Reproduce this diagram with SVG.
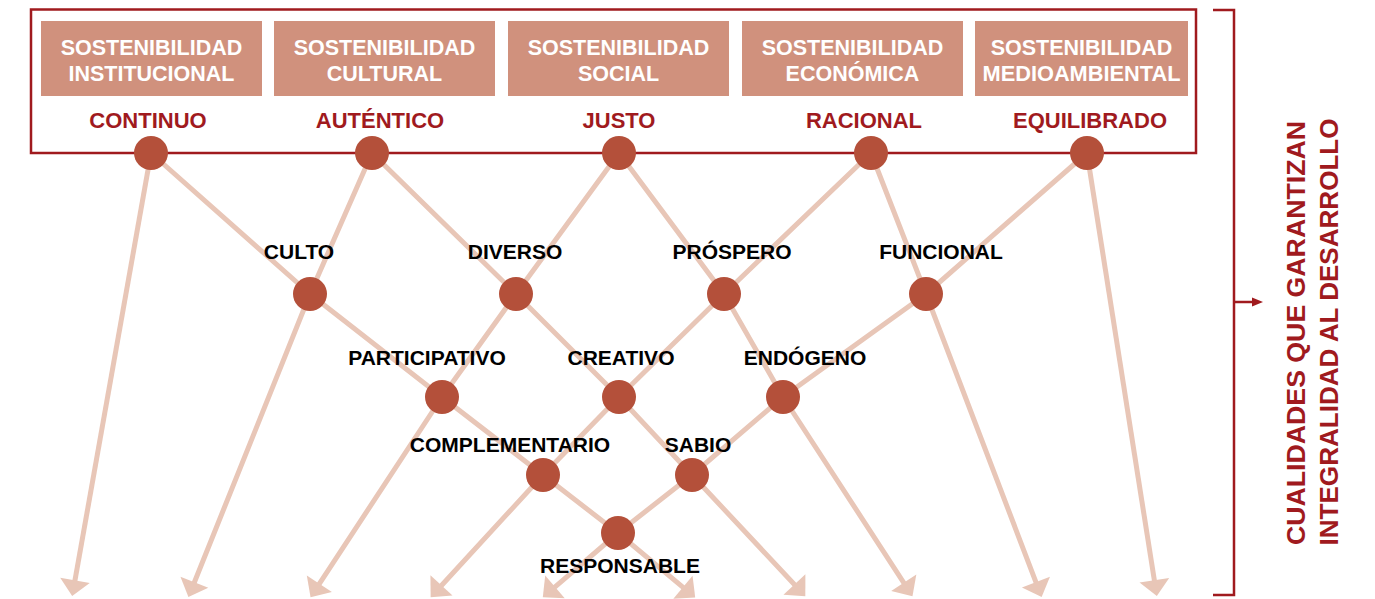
<svg xmlns="http://www.w3.org/2000/svg" width="1375" height="599" viewBox="0 0 1375 599">
<style>
.box{fill:#D0917D}
.bt{font-family:"Liberation Sans",Arial,sans-serif;font-weight:bold;font-size:21.5px;fill:#ffffff;text-anchor:middle}
.top{font-family:"Liberation Sans",Arial,sans-serif;font-weight:bold;font-size:22px;fill:#A01A1E;text-anchor:middle}
.lbl{font-family:"Liberation Sans",Arial,sans-serif;font-weight:bold;font-size:21px;fill:#000000;text-anchor:middle}
.dot{fill:#B4503A}
.ln{fill:none;stroke:#E8C6B7;stroke-width:5;stroke-linejoin:round;marker-end:url(#ah)}
.red{fill:none;stroke:#A01A1E;stroke-width:2.5}
.side{font-family:"Liberation Sans",Arial,sans-serif;font-weight:bold;font-size:26px;fill:#A01A1E;text-anchor:middle}
</style>
<defs>
<marker id="ah" markerUnits="userSpaceOnUse" markerWidth="20" markerHeight="32" viewBox="0 -16 18 32" refX="1" refY="0" orient="auto">
<path d="M0,-15 L16,0 L0,15 z" fill="#E8C6B7"/>
</marker>
</defs>
<rect width="1375" height="599" fill="#ffffff"/>

<g id="connectors">
<polyline class="ln" points="151,153 74.8,581.3"/>
<polyline class="ln" points="372,153 310,294 194,583.2"/>
<polyline class="ln" points="619,153 516,294 442,397 318.8,584.6"/>
<polyline class="ln" points="871,153 724,294 619,397 543,475 440.8,586.2"/>
<polyline class="ln" points="1087,153 926,294 783,397 692,475 618,533 554.2,587.6"/>
<polyline class="ln" points="151,153 310,294 442,397 543,475 618,533 683.7,587.8"/>
<polyline class="ln" points="372,153 516,294 619,397 692,475 795.1,585.3"/>
<polyline class="ln" points="619,153 724,294 783,397 904.3,583.6"/>
<polyline class="ln" points="871,153 926,294 1036.3,583.1"/>
<polyline class="ln" points="1087,153 1154.5,581.2"/>
</g>

<g id="frame">
<rect class="red" x="31" y="9.5" width="1165" height="143.5"/>
</g>

<g id="box-institucional">
<rect class="box" x="41" y="21" width="221" height="75"/>
<text class="bt" x="151.5" y="55">SOSTENIBILIDAD</text>
<text class="bt" x="151.5" y="81">INSTITUCIONAL</text>
</g>
<g id="box-cultural">
<rect class="box" x="274" y="21" width="221" height="75"/>
<text class="bt" x="384.5" y="55">SOSTENIBILIDAD</text>
<text class="bt" x="384.5" y="81">CULTURAL</text>
</g>
<g id="box-social">
<rect class="box" x="508" y="21" width="221" height="75"/>
<text class="bt" x="618.5" y="55">SOSTENIBILIDAD</text>
<text class="bt" x="618.5" y="81">SOCIAL</text>
</g>
<g id="box-economica">
<rect class="box" x="742" y="21" width="221" height="75"/>
<text class="bt" x="852.5" y="55">SOSTENIBILIDAD</text>
<text class="bt" x="852.5" y="81">ECONÓMICA</text>
</g>
<g id="box-medioambiental">
<rect class="box" x="975" y="21" width="213" height="75"/>
<text class="bt" x="1081.5" y="55">SOSTENIBILIDAD</text>
<text class="bt" x="1081.5" y="81" textLength="198" lengthAdjust="spacingAndGlyphs">MEDIOAMBIENTAL</text>
</g>

<g id="n-continuo"><text class="top" x="148" y="128">CONTINUO</text><circle class="dot" cx="151" cy="153" r="17"/></g>
<g id="n-autentico"><text class="top" x="380" y="128">AUTÉNTICO</text><circle class="dot" cx="372" cy="153" r="17"/></g>
<g id="n-justo"><text class="top" x="619" y="128">JUSTO</text><circle class="dot" cx="619" cy="153" r="17"/></g>
<g id="n-racional"><text class="top" x="864" y="128">RACIONAL</text><circle class="dot" cx="871" cy="153" r="17"/></g>
<g id="n-equilibrado"><text class="top" x="1090" y="128">EQUILIBRADO</text><circle class="dot" cx="1087" cy="153" r="17"/></g>

<g id="n-culto"><text class="lbl" x="299" y="259">CULTO</text><circle class="dot" cx="310" cy="294" r="17"/></g>
<g id="n-diverso"><text class="lbl" x="515" y="259">DIVERSO</text><circle class="dot" cx="516" cy="294" r="17"/></g>
<g id="n-prospero"><text class="lbl" x="732" y="259">PRÓSPERO</text><circle class="dot" cx="724" cy="294" r="17"/></g>
<g id="n-funcional"><text class="lbl" x="941" y="259">FUNCIONAL</text><circle class="dot" cx="926" cy="294" r="17"/></g>

<g id="n-participativo"><text class="lbl" x="427" y="365">PARTICIPATIVO</text><circle class="dot" cx="442" cy="397" r="17"/></g>
<g id="n-creativo"><text class="lbl" x="621" y="365">CREATIVO</text><circle class="dot" cx="619" cy="397" r="17"/></g>
<g id="n-endogeno"><text class="lbl" x="805" y="365">ENDÓGENO</text><circle class="dot" cx="783" cy="397" r="17"/></g>

<g id="n-complementario"><text class="lbl" x="510" y="452">COMPLEMENTARIO</text><circle class="dot" cx="543" cy="475" r="17"/></g>
<g id="n-sabio"><text class="lbl" x="698" y="452">SABIO</text><circle class="dot" cx="692" cy="475" r="17"/></g>

<g id="n-responsable"><circle class="dot" cx="618" cy="533" r="17"/><text class="lbl" x="620" y="573">RESPONSABLE</text></g>

<g id="bracket">
<polyline class="red" points="1213,10 1234,10 1234,595 1213,595"/>
<line x1="1234" y1="302" x2="1253" y2="302" stroke="#A01A1E" stroke-width="2.5"/>
<polygon points="1252,297.5 1263,302 1252,306.5" fill="#A01A1E"/>
<text class="side" transform="translate(1305,333) rotate(-90)" x="0" y="0" textLength="424" lengthAdjust="spacingAndGlyphs">CUALIDADES QUE GARANTIZAN</text>
<text class="side" transform="translate(1338,332) rotate(-90)" x="0" y="0" textLength="427" lengthAdjust="spacingAndGlyphs">INTEGRALIDAD AL DESARROLLO</text>
</g>
</svg>
